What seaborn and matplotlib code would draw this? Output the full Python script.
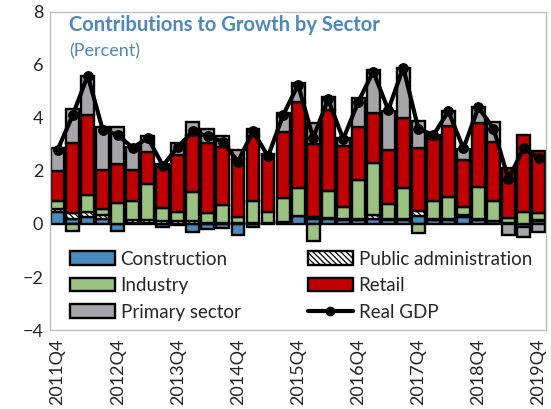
import numpy as np
import pandas as pd
import seaborn as sns
import matplotlib.pyplot as plt
from matplotlib.patches import Patch
from matplotlib.lines import Line2D

# Quarterly contributions to real GDP growth (percentage points)
quarters = ["2011Q4",
            "2012Q1", "2012Q2", "2012Q3", "2012Q4",
            "2013Q1", "2013Q2", "2013Q3", "2013Q4",
            "2014Q1", "2014Q2", "2014Q3", "2014Q4",
            "2015Q1", "2015Q2", "2015Q3", "2015Q4",
            "2016Q1", "2016Q2", "2016Q3", "2016Q4",
            "2017Q1", "2017Q2", "2017Q3", "2017Q4",
            "2018Q1", "2018Q2", "2018Q3", "2018Q4",
            "2019Q1", "2019Q2", "2019Q3", "2019Q4"]

construction = [0.45, 0.2, 0.25, 0.2, -0.25, 0.05, 0.05, -0.1, -0.05, -0.3, -0.2,
                -0.15, -0.4, -0.1, 0.02, 0.05, 0.3, 0.2, 0.2, 0.15, 0.15, 0.2,
                0.15, 0.15, 0.3, 0.15, 0.15, 0.25, 0.15, 0.1, 0.02, -0.1, 0.1]
public_admin = [0.1, 0.2, 0.2, 0.15, 0.0, 0.1, 0.1, 0.1, 0.1, 0.1, 0.05,
                0.05, 0.05, 0.05, 0.02, 0.02, 0.0, 0.05, 0.02, 0.05, 0.05, 0.15,
                0.05, 0.05, 0.2, 0.05, 0.03, 0.1, 0.02, 0.02, 0.0, 0.0, 0.05]
industry = [0.3, -0.25, 0.65, 0.2, 0.8, 0.7, 1.35, 0.5, 0.35, 1.1, 0.35,
            0.65, 0.2, 0.8, 0.43, 0.9, 1.05, -0.65, 1.03, 0.43, 1.45, 1.95,
            0.55, 1.15, -0.35, 0.65, 0.85, 0.3, 1.23, 0.73, 0.2, 0.45, 0.25]
retail = [1.15, 2.65, 3.0, 1.5, 1.45, 1.2, 1.2, 1.55, 2.15, 2.15, 2.65,
          2.2, 2.2, 2.45, 2.13, 2.5, 3.25, 2.75, 3.05, 2.32, 2.0, 1.9,
          2.05, 2.65, 2.35, 2.35, 2.67, 1.75, 2.4, 2.25, 1.88, 2.9, 2.35]
primary = [0.85, 1.3, 1.5, 1.6, 1.4, 0.85, 0.6, 0.1, 0.45, 0.5, 0.55,
           0.4, 0.35, 0.3, 0.05, 0.7, 0.7, 0.8, 0.5, 0.3, 1.1, 1.6,
           1.45, 1.9, 1.05, 0.15, 0.55, 0.43, 0.6, 0.75, -0.4, -0.4, -0.3]
real_gdp = [2.8, 4.1, 5.6, 3.55, 3.36, 2.87, 3.25, 2.2, 2.9, 3.5, 3.3,
            3.1, 2.35, 3.5, 2.55, 4.1, 5.25, 3.25, 4.7, 3.2, 4.6, 5.75,
            4.3, 5.9, 3.6, 3.35, 4.25, 2.85, 4.4, 3.6, 1.7, 2.85, 2.5]

sectors = ["Construction", "Public administration", "Industry", "Retail", "Primary sector"]
colors = ["#4a8bbd", "white", "#9bc281", "#c00000", "#a6a6aa"]
hatches = [None, "\\\\\\\\\\\\", None, None, None]

df = pd.DataFrame({"quarter": quarters, "Construction": construction,
                   "Public administration": public_admin, "Industry": industry,
                   "Retail": retail, "Primary sector": primary, "Real GDP": real_gdp})
df["pos"] = np.arange(len(df))

sns.set_style("white")
plt.rcParams["font.family"] = ["Lato", "DejaVu Sans"]
plt.rcParams["hatch.linewidth"] = 0.9

fig, ax = plt.subplots(figsize=(5.51, 4.09), dpi=100)
fig.subplots_adjust(left=0.091, right=0.991, top=0.971, bottom=0.193)

# stacked bars, positives stack up and negatives stack down
pos_base = np.zeros(len(df))
neg_base = np.zeros(len(df))
for name, c, h in zip(sectors, colors, hatches):
    vals = df[name].to_numpy()
    base = np.where(vals >= 0, pos_base, neg_base)
    ax.bar(df["pos"], vals, bottom=base, width=0.86, color=c, edgecolor="black",
           linewidth=1.7, hatch=h, zorder=2)
    pos_base += np.clip(vals, 0, None)
    neg_base += np.clip(vals, None, 0)

sns.lineplot(data=df, x="pos", y="Real GDP", ax=ax, color="black", linewidth=3,
             marker="o", markersize=7, markeredgecolor="black", zorder=3)

ax.set_xlim(-0.5, len(df) - 0.5)
ax.set_ylim(-4, 8)
ax.set_yticks(range(-4, 9, 2))
ax.set_xticks(df["pos"][::4])
ax.set_xticklabels(df["quarter"][::4], rotation=90, fontsize=13)
ax.tick_params(axis="y", labelsize=13, direction="in", length=5, color="#bfbfbf", pad=5)
ax.tick_params(axis="x", length=0, pad=6)
ax.set_xlabel("")
ax.set_ylabel("")
for s in ax.spines.values():
    s.set_color("#bfbfbf")
    s.set_linewidth(1)

ax.text(0.038, 0.99, "Contributions to Growth by Sector", transform=ax.transAxes,
        fontsize=14.5, fontweight="bold", color="#4f88bb", va="top")
ax.text(0.038, 0.9, "(Percent)", transform=ax.transAxes,
        fontsize=13, color="#4f88bb", va="top")

handles = [Patch(facecolor=colors[0], edgecolor="black", linewidth=1.7),
           Patch(facecolor=colors[2], edgecolor="black", linewidth=1.7),
           Patch(facecolor=colors[4], edgecolor="black", linewidth=1.7),
           Patch(facecolor="white", edgecolor="black", linewidth=1.7, hatch=hatches[1]),
           Patch(facecolor=colors[3], edgecolor="black", linewidth=1.7),
           Line2D([0], [0], color="black", linewidth=3, marker="o", markersize=6)]
labels = ["Construction", "Industry", "Primary sector",
          "Public administration", "Retail", "Real GDP"]
ax.legend(handles, labels, ncol=2, loc="lower left", bbox_to_anchor=(0.04, 0.03),
          frameon=False, fontsize=13.5, handlelength=2.4, handleheight=0.75,
          handletextpad=0.3, columnspacing=3.6, labelspacing=0.5, borderaxespad=0,
          borderpad=0)

plt.savefig("out.png", dpi=100)
